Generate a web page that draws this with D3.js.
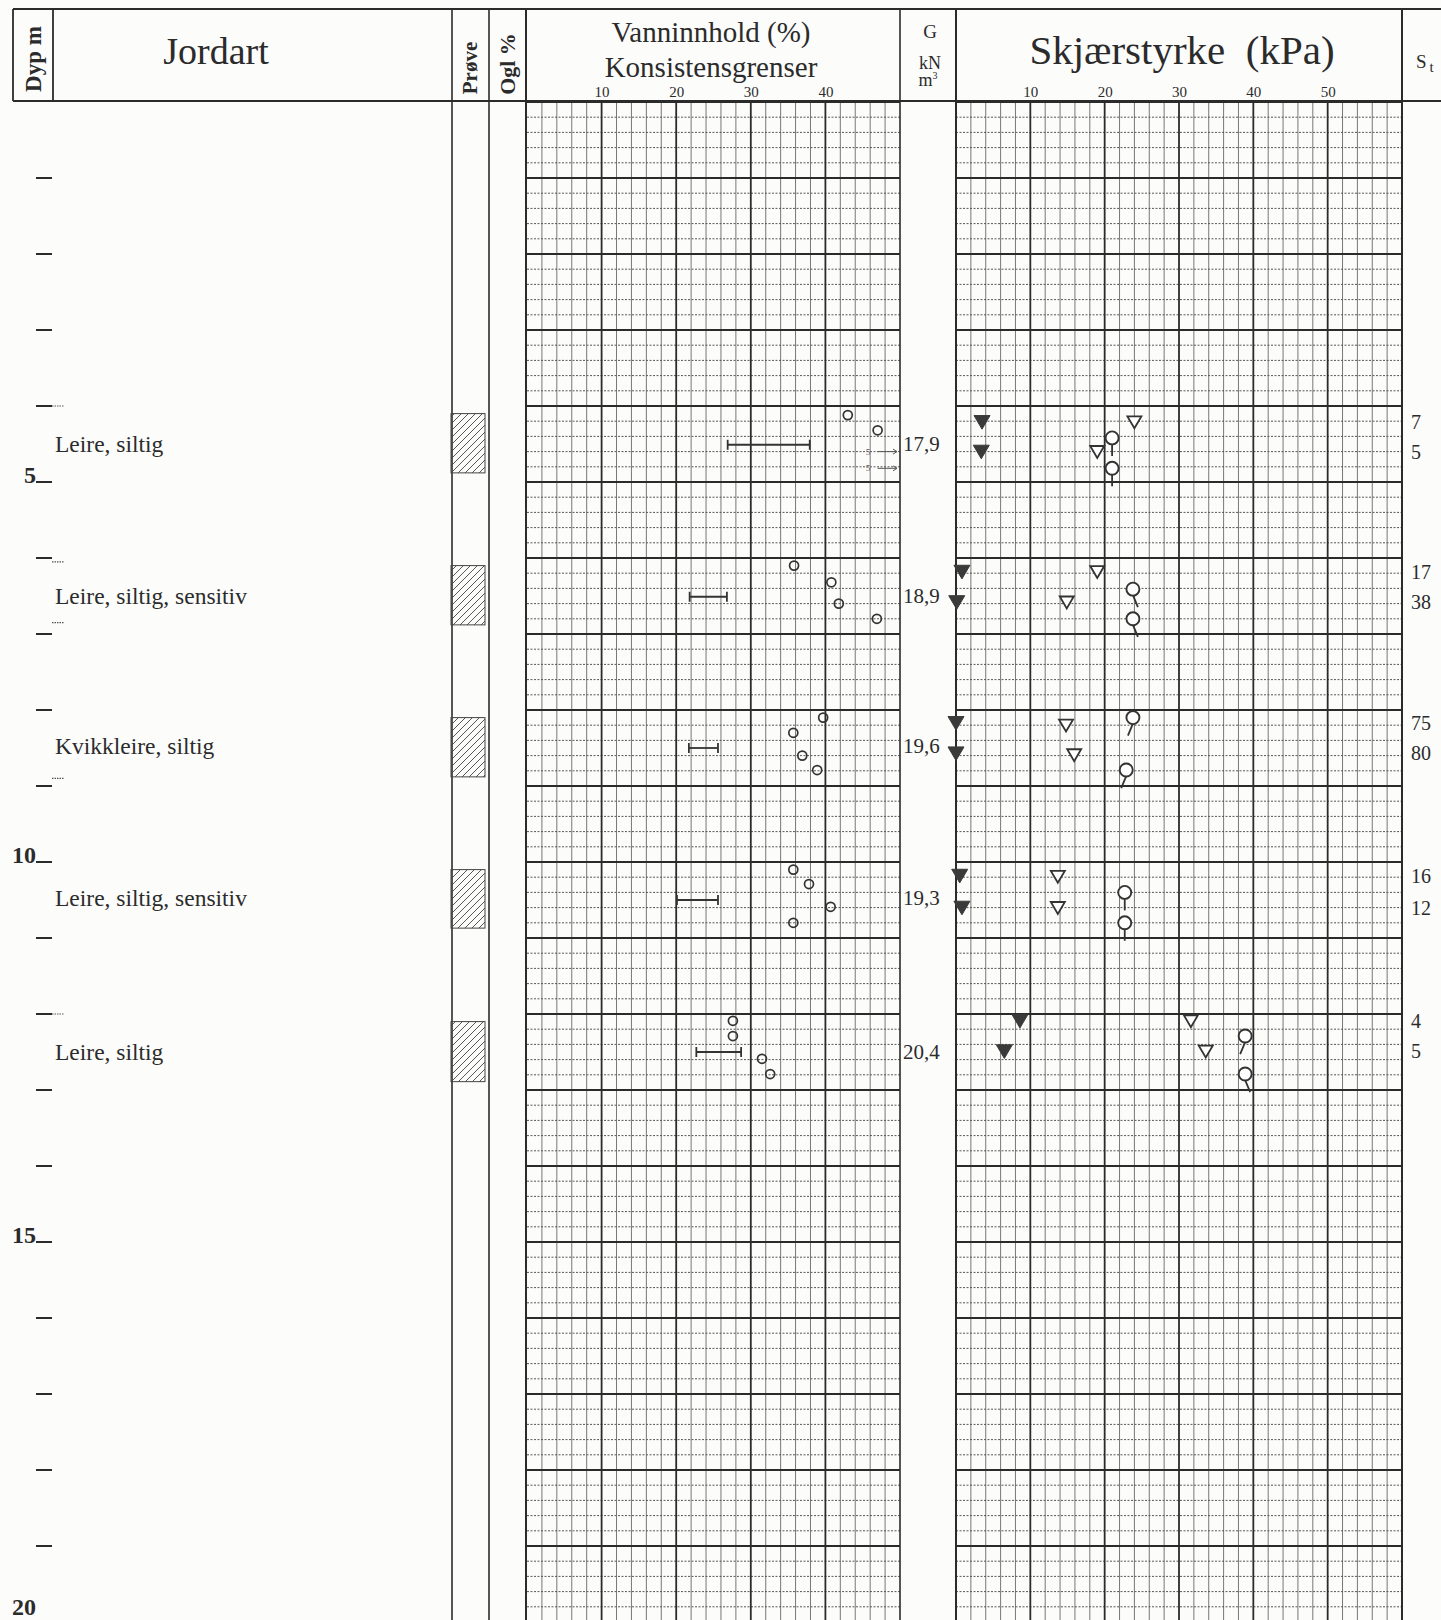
<!DOCTYPE html>
<html lang="no">
<head>
<meta charset="UTF-8">
<title>Borprofil</title>
<script src="https://cdn.jsdelivr.net/npm/d3@7"></script>
<style>
  body { margin: 0; background: #fff; }
  svg { display: block; font-family: "Liberation Serif", "DejaVu Serif", serif; }
</style>
</head>
<body>
<script>
// --- data ---
var soilNames = ["Leire, siltig", "Leire, siltig, sensitiv", "Kvikkleire, siltig", "Leire, siltig, sensitiv", "Leire, siltig"];
var sampleTop = [4.1, 6.1, 8.1, 10.1, 12.1];
var sampleBottom = [4.88, 6.88, 8.88, 10.87, 12.89];
var labelDepth = [4.6, 6.6, 8.58, 10.58, 12.6];
var layerMarks = [4.0, 6.05, 6.85, 8.9, 12.0];
var unitWeight = ["17,9", "18,9", "19,6", "19,3", "20,4"];

// vanninnhold (%) : [dybde, verdi]
var waterContent = [
  [4.12, 43.0], [4.32, 47.0],
  [6.1, 35.8], [6.32, 40.8], [6.6, 41.8], [6.8, 46.9],
  [8.1, 39.7], [8.3, 35.7], [8.6, 36.9], [8.79, 38.9],
  [10.1, 35.7], [10.29, 37.8], [10.59, 40.7], [10.8, 35.7],
  [12.09, 27.6], [12.29, 27.6], [12.59, 31.5], [12.79, 32.6]
];
// utenfor skala (pil mot høyre)
var offScale = [[4.6, "5"], [4.82, "5"]];
// konsistensgrenser : [dybde, wp, wl]
var limits = [[4.51, 26.9, 37.9], [6.51, 21.8, 26.8], [8.5, 21.7, 25.6], [10.5, 20.1, 25.6], [12.5, 22.7, 28.7]];

// skjærstyrke (kPa)
var remoulded = [[4.21, 3.5], [4.6, 3.4], [6.18, 0.8], [6.58, 0.1], [8.17, 0], [8.57, 0], [10.18, 0.5], [10.6, 0.8], [12.09, 8.6], [12.49, 6.5]];
var undisturbed = [[4.21, 24.0], [4.6, 19.0], [6.18, 19.0], [6.58, 14.9], [8.2, 14.8], [8.59, 15.9], [10.19, 13.7], [10.6, 13.7], [12.09, 31.6], [12.49, 33.6]];
// enaks: [dybde, verdi, helning på stilk]
var unconfined = [[4.42, 21.0, 0], [4.82, 21.0, 0], [6.41, 23.8, 1], [6.8, 23.8, 1], [8.1, 23.8, -1], [8.79, 22.9, -1],
  [10.4, 22.7, 0], [10.8, 22.7, 0], [12.29, 38.9, -1], [12.79, 38.9, 1]];
var sensitivity = [[4.21, "7"], [4.6, "5"], [6.18, "17"], [6.58, "38"], [8.17, "75"], [8.57, "80"],
  [10.18, "16"], [10.6, "12"], [12.09, "4"], [12.49, "5"]];

var waterTicks = [10, 20, 30, 40];
var shearTicks = [10, 20, 30, 40, 50];
var depthLabels = [5, 10, 15, 20];

// --- scales ---
var W = 1441, H = 1620;
var y = d3.scaleLinear().domain([0, 20]).range([102, 1622]);
var xw = d3.scaleLinear().domain([0, 50]).range([527, 900]);
var xs = d3.scaleLinear().domain([0, 60]).range([956, 1402]);
var ink = "#2b2b2b";

var svg = d3.select("body").append("svg").attr("width", W).attr("height", H);
svg.append("rect").attr("width", W).attr("height", H).attr("fill", "#fcfcfb");

var defs = svg.append("defs");
defs.append("pattern").attr("id", "hatch").attr("patternUnits", "userSpaceOnUse")
  .attr("width", 7).attr("height", 7)
  .append("path").attr("d", "M-1,1 l2,-2 M0,7 l7,-7 M6,8 l2,-2")
  .attr("stroke", "#444").attr("stroke-width", 0.9);

// --- grids ---
function drawGrid(x, xmax) {
  var g = svg.append("g");
  var hMinor = d3.range(1, 101).map(function (i) { return i / 5; }).filter(function (d) { return Math.abs(d - Math.round(d)) > 1e-6; });
  var hMajor = d3.range(0, 21);
  var vMinor = d3.range(2, xmax, 2).filter(function (d) { return d % 10 !== 0; });
  var vMajor = d3.range(10, xmax, 10);
  var x0 = x.range()[0], x1 = x.range()[1];

  g.selectAll(".hmin").data(hMinor).enter().append("line")
    .attr("x1", x0).attr("x2", x1).attr("y1", y).attr("y2", y)
    .attr("stroke", "#4a4340").attr("stroke-width", 0.9).attr("stroke-dasharray", "2,1.5");
  g.selectAll(".vmin").data(vMinor).enter().append("line")
    .attr("x1", x).attr("x2", x).attr("y1", y(0)).attr("y2", H)
    .attr("stroke", "#555").attr("stroke-width", 0.8);
  g.selectAll(".hmaj").data(hMajor).enter().append("line")
    .attr("x1", x0).attr("x2", x1).attr("y1", y).attr("y2", y)
    .attr("stroke", ink).attr("stroke-width", 1.8);
  g.selectAll(".vmaj").data(vMajor).enter().append("line")
    .attr("x1", x).attr("x2", x).attr("y1", y(0)).attr("y2", H)
    .attr("stroke", ink).attr("stroke-width", 1.8);
}
drawGrid(xw, 50);
drawGrid(xs, 60);

// column borders in the body
[452, 489, 526, 900, 956, 1402].forEach(function (cx) {
  svg.append("line").attr("x1", cx).attr("x2", cx).attr("y1", 9).attr("y2", H)
    .attr("stroke", ink).attr("stroke-width", cx === 526 || cx === 956 || cx === 1402 ? 2 : 1.6);
});

// --- header ---
var head = svg.append("g");
head.append("line").attr("x1", 13).attr("x2", W).attr("y1", 9).attr("y2", 9).attr("stroke", ink).attr("stroke-width", 2.2);
head.append("line").attr("x1", 13).attr("x2", W).attr("y1", 101).attr("y2", 101).attr("stroke", ink).attr("stroke-width", 2.2);
[13, 53].forEach(function (cx) {
  head.append("line").attr("x1", cx).attr("x2", cx).attr("y1", 9).attr("y2", 101).attr("stroke", ink).attr("stroke-width", 1.8);
});

function vtext(x, yc, txt, size) {
  head.append("text").attr("transform", "translate(" + x + "," + yc + ") rotate(-90)")
    .attr("text-anchor", "middle").attr("font-weight", "bold").attr("font-size", size)
    .attr("fill", ink).text(txt);
}
vtext(41, 59, "Dyp m", 23);
vtext(477, 68, "Prøve", 21);
vtext(515, 64, "Ogl %", 22);

head.append("text").attr("x", 216).attr("y", 64).attr("text-anchor", "middle").attr("font-size", 38).attr("fill", ink).text("Jordart");
head.append("text").attr("x", 711).attr("y", 42).attr("text-anchor", "middle").attr("font-size", 29).attr("fill", ink).text("Vanninnhold (%)");
head.append("text").attr("x", 711).attr("y", 77).attr("text-anchor", "middle").attr("font-size", 29).attr("fill", ink).text("Konsistensgrenser");
head.append("text").attr("x", 930).attr("y", 38).attr("text-anchor", "middle").attr("font-size", 19).attr("fill", ink).text("G");
head.append("text").attr("x", 930).attr("y", 69).attr("text-anchor", "middle").attr("font-size", 18).attr("fill", ink).text("kN");
var m3 = head.append("text").attr("x", 928).attr("y", 86).attr("text-anchor", "middle").attr("font-size", 18).attr("fill", ink);
m3.append("tspan").text("m");
m3.append("tspan").attr("font-size", 10).attr("dy", -7).text("3");
head.append("text").attr("x", 1182).attr("y", 64).attr("text-anchor", "middle").attr("font-size", 41)
  .attr("fill", ink).style("white-space", "pre").text("Skjærstyrke  (kPa)");
var st = head.append("text").attr("x", 1416).attr("y", 68).attr("font-size", 19).attr("fill", ink);
st.append("tspan").text("S");
st.append("tspan").attr("dx", 3).attr("dy", 4).attr("font-size", 15).text("t");

// tick labels with d3 axes
function tickRow(scale, vals) {
  var a = svg.append("g").attr("transform", "translate(0,100)")
    .call(d3.axisTop(scale).tickValues(vals).tickSize(0).tickPadding(3));
  a.select(".domain").remove();
  a.selectAll("text").attr("font-size", 15).attr("font-family", "Liberation Serif, serif").attr("fill", ink);
}
tickRow(xw, waterTicks);
tickRow(xs, shearTicks);

// --- depth column ---
var dep = svg.append("g");
dep.selectAll(".dt").data(d3.range(1, 20)).enter().append("line")
  .attr("x1", 36).attr("x2", 52).attr("y1", y).attr("y2", y)
  .attr("stroke", ink).attr("stroke-width", 2);
dep.selectAll(".dl").data(depthLabels).enter().append("text")
  .attr("x", 36).attr("y", function (d) { return Math.min(y(d) + 1, H - 5); })
  .attr("text-anchor", "end").attr("font-weight", "bold").attr("font-size", 24).attr("fill", ink)
  .text(function (d) { return d; });
dep.selectAll(".lm").data(layerMarks).enter().append("line")
  .attr("x1", 52).attr("x2", 64).attr("y1", y).attr("y2", y)
  .attr("stroke", "#555").attr("stroke-width", 1.2).attr("stroke-dasharray", "1.5,1");

// soil names
svg.selectAll(".soil").data(soilNames).enter().append("text")
  .attr("x", 55).attr("y", function (d, i) { return y(labelDepth[i]); })
  .attr("font-size", 23.5).attr("fill", ink).text(function (d) { return d; });

// samples
svg.selectAll(".smp").data(sampleTop).enter().append("rect")
  .attr("x", 451).attr("width", 34)
  .attr("y", function (d) { return y(d); })
  .attr("height", function (d, i) { return y(sampleBottom[i]) - y(d); })
  .attr("fill", "url(#hatch)").attr("stroke", "#444").attr("stroke-width", 1);

// --- vanninnhold ---
svg.selectAll(".wc").data(waterContent).enter().append("circle")
  .attr("cx", function (d) { return xw(d[1]); }).attr("cy", function (d) { return y(d[0]); })
  .attr("r", 4.5).attr("fill", "none").attr("stroke", "#333").attr("stroke-width", 1.7);

var lim = svg.selectAll(".lim").data(limits).enter().append("g");
lim.append("line").attr("x1", function (d) { return xw(d[1]); }).attr("x2", function (d) { return xw(d[2]); })
  .attr("y1", function (d) { return y(d[0]); }).attr("y2", function (d) { return y(d[0]); })
  .attr("stroke", "#333").attr("stroke-width", 1.8);
[1, 2].forEach(function (k) {
  lim.append("line").attr("x1", function (d) { return xw(d[k]); }).attr("x2", function (d) { return xw(d[k]); })
    .attr("y1", function (d) { return y(d[0]) - 5; }).attr("y2", function (d) { return y(d[0]) + 5; })
    .attr("stroke", "#333").attr("stroke-width", 1.8);
});

var off = svg.selectAll(".off").data(offScale).enter().append("g");
off.append("text").attr("x", xw(45.4)).attr("y", function (d) { return y(d[0]) + 3; })
  .attr("font-size", 9).attr("fill", "#555").text(function (d) { return d[1]; });
off.append("path").attr("d", function (d) {
  var yy = y(d[0]), a = xw(47), b = xw(49.6);
  return "M" + a + "," + yy + "H" + b + "M" + (b - 4) + "," + (yy - 2.5) + "L" + b + "," + yy + "L" + (b - 4) + "," + (yy + 2.5);
}).attr("stroke", "#555").attr("stroke-width", 1).attr("fill", "none");

// romvekt
svg.selectAll(".gw").data(unitWeight).enter().append("text")
  .attr("x", 903).attr("y", function (d, i) { return y(labelDepth[i]) - 1; })
  .attr("font-size", 21).attr("fill", ink).text(function (d) { return d; });

// --- skjærstyrke ---
function tri(cx, cy, s) {
  return "M" + (cx - s) + "," + (cy - s * 0.8) + "L" + (cx + s) + "," + (cy - s * 0.8) + "L" + cx + "," + (cy + s * 0.9) + "Z";
}
svg.selectAll(".rem").data(remoulded).enter().append("path")
  .attr("d", function (d) { return tri(xs(d[1]), y(d[0]), 8); })
  .attr("fill", "#3a3a3a").attr("stroke", "#3a3a3a").attr("stroke-width", 1);
svg.selectAll(".und").data(undisturbed).enter().append("path")
  .attr("d", function (d) { return tri(xs(d[1]), y(d[0]), 7); })
  .attr("fill", "#fff").attr("stroke", "#333").attr("stroke-width", 1.8);
var unc = svg.selectAll(".unc").data(unconfined).enter().append("g");
unc.append("line")
  .attr("x1", function (d) { return xs(d[1]); }).attr("y1", function (d) { return y(d[0]) + 6; })
  .attr("x2", function (d) { return xs(d[1]) + d[2] * 5; }).attr("y2", function (d) { return y(d[0]) + 18; })
  .attr("stroke", "#333").attr("stroke-width", 1.8);
unc.append("circle")
  .attr("cx", function (d) { return xs(d[1]); }).attr("cy", function (d) { return y(d[0]); })
  .attr("r", 6.5).attr("fill", "#fff").attr("stroke", "#333").attr("stroke-width", 1.9);

svg.selectAll(".st").data(sensitivity).enter().append("text")
  .attr("x", 1411).attr("y", function (d) { return y(d[0]) + 7; })
  .attr("font-size", 20).attr("fill", ink).text(function (d) { return d[1]; });
</script>
</body>
</html>
